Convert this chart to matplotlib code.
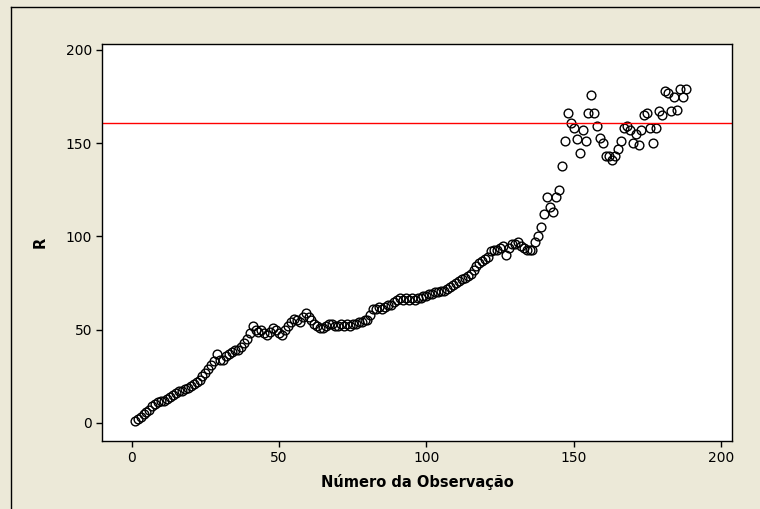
import matplotlib
matplotlib.use("Agg")
import matplotlib.pyplot as plt
from matplotlib.lines import Line2D

r_vals = [
    1, 2, 3, 5, 6, 7, 9, 10, 11, 12,
    12, 13, 14, 15, 16, 17, 17, 18, 19, 20,
    21, 22, 23, 25, 27, 29, 31, 33, 37, 34,
    34, 36, 37, 38, 39, 39, 41, 43, 45, 48,
    52, 50, 49, 50, 48, 47, 49, 51, 50, 48,
    47, 50, 52, 54, 56, 55, 54, 57, 59, 57,
    55, 53, 52, 51, 51, 52, 53, 53, 52, 52,
    53, 52, 53, 52, 53, 53, 54, 54, 55, 55,
    58, 61, 61, 62, 61, 62, 63, 63, 65, 66,
    67, 66, 67, 66, 67, 66, 67, 67, 68, 68,
    69, 69, 70, 70, 71, 71, 72, 73, 74, 75,
    76, 77, 78, 79, 80, 82, 84, 86, 87, 88,
    89, 92, 93, 93, 94, 95, 90, 94, 96, 96,
    97, 95, 94, 93, 93, 93, 97, 100, 105, 112,
    121, 116, 113, 121, 125, 138, 151, 166, 161, 158,
    152, 145, 157, 151, 166, 176, 166, 159, 153, 150,
    143, 143, 141, 143, 147, 151, 158, 159, 157, 150,
    155, 149, 157, 165, 166, 158, 150, 158, 167, 165,
    178, 177, 167, 175, 168, 179, 175, 179,
]
obs = list(range(1, len(r_vals) + 1))
limit = 160.7

fig = plt.figure(figsize=(7.6, 5.09), dpi=100, facecolor="#ECE9D8")
ax = fig.add_axes([0.1342, 0.1336, 0.8289, 0.78])

ax.plot(obs, r_vals, linestyle="none", marker="o", ms=6.3,
        mfc="none", mec="black", mew=1.0)
ax.axhline(limit, color="#FF0000", lw=1)

ax.set_xlim(-10.1, 203.7)
ax.set_ylim(-9.65, 203.2)
ax.set_xticks([0, 50, 100, 150, 200])
ax.set_yticks([0, 50, 100, 150, 200])
ax.tick_params(direction="out", length=4, width=1, labelsize=10, colors="black", pad=3)
for s in ax.spines.values():
    s.set_linewidth(1)
ax.spines["top"].set_visible(False)
ax.spines["right"].set_visible(False)
ax.add_line(Line2D([0, 1], [1, 1], transform=ax.transAxes, color="black", lw=1, clip_on=False))
ax.add_line(Line2D([1, 1], [0, 1], transform=ax.transAxes, color="black", lw=1, clip_on=False))

ax.set_xlabel("Número da Observação", fontsize=10.5, fontweight="bold", labelpad=7)
ax.set_ylabel("R", fontsize=10.5, fontweight="bold", labelpad=13)

# outer frame
fig.add_artist(Line2D([11 / 760, 1], [1 - 7 / 509, 1 - 7 / 509], color="black", lw=1))
fig.add_artist(Line2D([11 / 760, 11 / 760], [0, 1 - 7 / 509], color="black", lw=1))

fig.savefig("out.png", dpi=100, facecolor=fig.get_facecolor())
